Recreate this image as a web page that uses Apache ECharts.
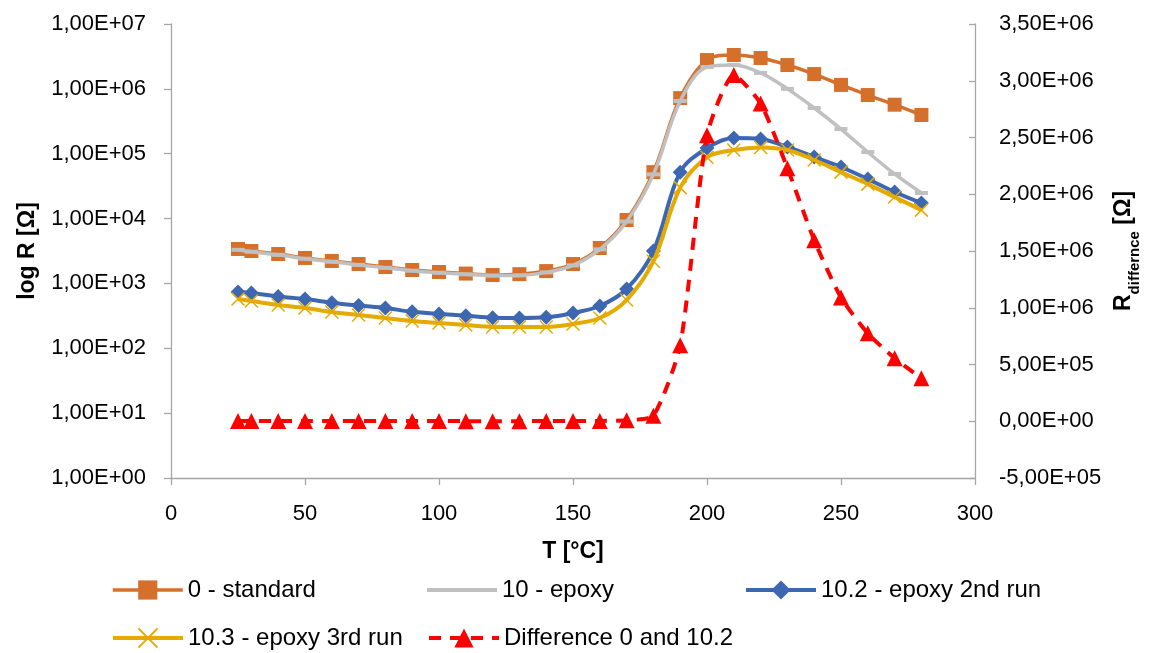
<!DOCTYPE html>
<html>
<head>
<meta charset="utf-8">
<script src="https://cdn.jsdelivr.net/npm/echarts@6/dist/echarts.min.js"></script>
<style>
html,body{margin:0;padding:0;background:#fff;}
#chart{width:1153px;height:653px;}
</style>
</head>
<body>
<div id="chart"></div>
<script>
// ---- data ----
const temperatures = [25,30,40,50,60,70,80,90,100,110,120,130,140,150,160,170,180,190,200,210,220,230,240,250,260,270,280];
const standard0 = [3400,3160,2840,2470,2220,1990,1790,1610,1500,1420,1350,1390,1550,1990,3520,9500,52000,720000,2780000,3330000,2990000,2330000,1690000,1150000,803000,570000,395000];
const epoxy10 = [3300,3080,2760,2400,2160,1930,1740,1570,1460,1380,1320,1330,1480,1900,3350,9000,48000,650000,2170000,2330000,1760000,1000000,507000,240000,106000,48700,24800];
const epoxy10_2 = [738,712,630,575,505,455,418,365,338,318,295,293,300,350,449,820,3160,52000,122000,175000,169000,127000,89000,62400,40700,25700,17400];
const epoxy10_3 = [575,536,465,418,363,326,293,264,245,228,213,213,213,237,293,555,2200,30000,88000,114000,125000,114000,80000,52000,34000,21500,13500];
const difference = [2660,2450,2200,1900,1700,1500,1370,1250,1160,1100,1050,1100,1250,1640,3070,8700,49000,670000,2520000,3050000,2800000,2230000,1595000,1090000,775000,555000,379000];

const seriesNames = ['0 - standard','10 - epoxy','10.2 - epoxy 2nd run','10.3 - epoxy 3rd run','Difference 0 and 10.2'];
const leftTickLabels = ['1,00E+00','1,00E+01','1,00E+02','1,00E+03','1,00E+04','1,00E+05','1,00E+06','1,00E+07'];
const rightTickLabels = ['-5,00E+05','0,00E+00','5,00E+05','1,00E+06','1,50E+06','2,00E+06','2,50E+06','3,00E+06','3,50E+06'];
const xTickLabels = ['0','50','100','150','200','250','300'];

// ---- chart ----
const FONT = '"Liberation Sans", Arial, sans-serif';
const axisGray = '#a6a6a6';
const pair = arr => temperatures.map((t,i)=>[t, arr[i]]);
const crossPath = 'path://M0,0L10,10M10,0L0,10';

const chart = echarts.init(document.getElementById('chart'), null, {renderer:'canvas'});

function legendAt(name, left, top, extra){
  return Object.assign({
    show:true, left:left, top:top, padding:0, orient:'horizontal',
    itemWidth:70, itemHeight:24, itemGap:0,
    selectedMode:false,
    lineStyle:{width:4},
    textStyle:{fontFamily:FONT, fontSize:24, color:'#000'},
    data:[name]
  }, extra||{});
}

const option = {
  backgroundColor:'#fff',
  animation:false,
  textStyle:{fontFamily:FONT},
  grid:{left:171, right:178, top:24, bottom:175, containLabel:false},
  legend:[
    legendAt(seriesNames[0], 111, 578, {lineStyle:{width:3.5}}),
    legendAt(seriesNames[1], 427, 578, {data:[{name:seriesNames[1], icon:'rect', itemStyle:{color:'#c0c0c0'}}], itemHeight:4, top:578}),
    legendAt(seriesNames[2], 744, 578),
    legendAt(seriesNames[3], 111, 626),
    legendAt(seriesNames[4], 427, 626)
  ],
  xAxis:{
    type:'value', min:0, max:300, interval:50,
    name:'T [°C]', nameLocation:'middle', nameGap:62,
    nameTextStyle:{fontFamily:FONT, fontSize:23, fontWeight:'bold', color:'#000'},
    axisLine:{show:true, onZero:false, lineStyle:{color:axisGray, width:1.3}},
    axisTick:{show:true, inside:false, length:7, lineStyle:{color:axisGray, width:1.3}},
    axisLabel:{fontFamily:FONT, fontSize:22, color:'#000', margin:25,
      formatter:(v)=>xTickLabels[Math.round(v/50)]},
    splitLine:{show:false}
  },
  yAxis:[
    {
      type:'log', logBase:10, min:1, max:10000000, position:'left',
      name:'log R [Ω]', nameLocation:'middle', nameRotate:90, nameGap:132,
      nameTextStyle:{fontFamily:FONT, fontSize:23, fontWeight:'bold', color:'#000'},
      axisLine:{show:true, lineStyle:{color:axisGray, width:1.3}},
      axisTick:{show:true, inside:false, length:7, lineStyle:{color:axisGray, width:1.3}},
      axisLabel:{fontFamily:FONT, fontSize:22, color:'#000', margin:25,
        formatter:(v)=>leftTickLabels[Math.round(Math.log10(v))]},
      splitLine:{show:false}
    },
    {
      type:'value', min:-500000, max:3500000, interval:500000, position:'right',
      name:'{m|R}{s|differnce}{m| [Ω]}', nameLocation:'middle', nameRotate:90, nameGap:136,
      nameTextStyle:{
        fontFamily:FONT, fontSize:23, fontWeight:'bold', color:'#000',
        rich:{
          m:{fontFamily:FONT, fontSize:23, fontWeight:'bold', color:'#000', lineHeight:30, verticalAlign:'top'},
          s:{fontFamily:FONT, fontSize:15, fontWeight:'bold', color:'#000', lineHeight:16, verticalAlign:'bottom'}
        }
      },
      axisLine:{show:true, lineStyle:{color:axisGray, width:1.3}},
      axisTick:{show:true, inside:true, length:6, lineStyle:{color:axisGray, width:1.3}},
      axisLabel:{fontFamily:FONT, fontSize:22, color:'#000', margin:24,
        formatter:(v)=>rightTickLabels[Math.round((v+500000)/500000)]},
      splitLine:{show:false}
    }
  ],
  series:[
    {
      name:seriesNames[0], type:'line', yAxisIndex:0, data:pair(standard0),
      smooth:0.35, symbol:'rect', symbolSize:14, showSymbol:true,
      lineStyle:{color:'#d4702c', width:3.5}, itemStyle:{color:'#d4702c'}, z:2
    },
    {
      name:seriesNames[1], type:'line', yAxisIndex:0, data:pair(epoxy10),
      smooth:0.35, symbol:'rect', symbolSize:[13,4], showSymbol:true,
      lineStyle:{color:'#c0c0c0', width:3.5}, itemStyle:{color:'#c0c0c0'}, z:3
    },
    {
      name:seriesNames[2], type:'line', yAxisIndex:0, data:pair(epoxy10_2),
      smooth:0.35, symbol:'diamond', symbolSize:15, showSymbol:true,
      lineStyle:{color:'#3d67b0', width:4}, itemStyle:{color:'#3d67b0'}, z:4
    },
    {
      name:seriesNames[3], type:'line', yAxisIndex:0, data:pair(epoxy10_3),
      smooth:0.35, symbol:crossPath, symbolSize:13, showSymbol:true,
      lineStyle:{color:'#e5aa00', width:4},
      itemStyle:{color:'#e5aa00', borderColor:'#e5aa00', borderWidth:1.5}, z:5
    },
    {
      name:seriesNames[4], type:'line', yAxisIndex:1, data:pair(difference),
      smooth:0.2, symbol:'triangle', symbolSize:16, showSymbol:true,
      lineStyle:{color:'#ff0000', width:4, type:[12,9]}, itemStyle:{color:'#ff0000'}, z:6
    }
  ]
};
chart.setOption(option);
</script>
</body>
</html>
